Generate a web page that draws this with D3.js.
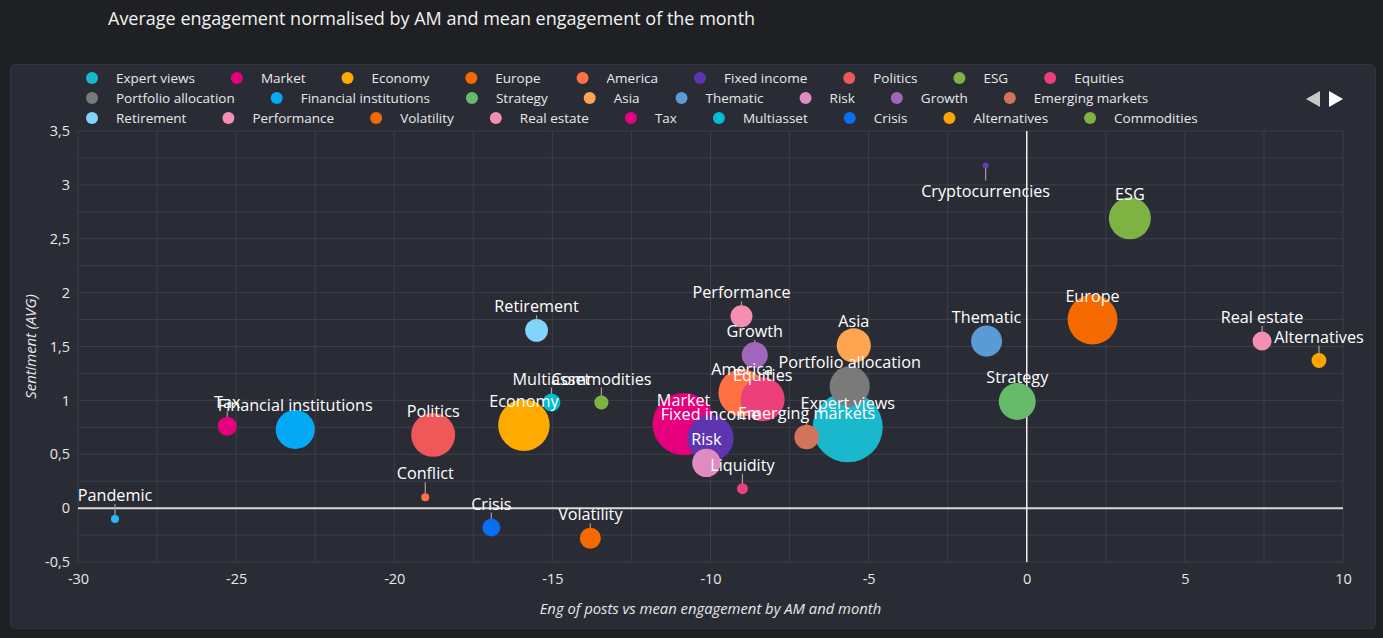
<!DOCTYPE html>
<html>
<head>
<meta charset="utf-8">
<script src="https://cdn.jsdelivr.net/npm/d3@7"></script>
<style>
  html, body { margin: 0; padding: 0; background: #1f2024; }
  svg { display: block; }
  text { font-family: "Open Sans", "Noto Sans", sans-serif; }
</style>
</head>
<body>
<svg id="chart" width="1383" height="638"></svg>
<script>
// ---------------- DATA ----------------
const titleText = "Average engagement normalised by AM and mean engagement of the month";
const xAxisTitle = "Eng of posts vs mean engagement by AM and month";
const yAxisTitle = "Sentiment (AVG)";

const topics = ["Expert views","Market","Economy","Europe","America","Fixed income","Politics","ESG","Equities",
  "Portfolio allocation","Financial institutions","Strategy","Asia","Thematic","Risk","Growth","Emerging markets",
  "Retirement","Performance","Volatility","Real estate","Tax","Multiasset","Crisis","Alternatives","Commodities",
  "Liquidity","Conflict","Pandemic","Cryptocurrencies"];
const engagement = [-5.66,-10.85,-15.9,2.08,-9.0,-10.0,-18.77,3.26,-8.35,
  -5.6,-23.13,-0.3,-5.47,-1.27,-10.13,-8.6,-6.96,
  -15.5,-9.02,-13.8,7.44,-25.28,-15.03,-16.93,9.24,-13.45,
  -8.99,-19.02,-28.83,-1.3];
const sentiment = [0.75,0.78,0.77,1.75,1.07,0.65,0.68,2.69,1.01,
  1.13,0.73,0.99,1.51,1.55,0.42,1.42,0.66,
  1.65,1.78,-0.28,1.55,0.76,0.98,-0.18,1.37,0.98,
  0.18,0.10,-0.10,3.18];
const posts = [122,96,66,62,56,53,48,44,48,
  40,38,34,29,24,20,17,15,
  13,12,11,9,9,8,8,5.5,5,
  3,1.6,1.6,0.9];
const colors = ["#1ab8cc","#e6007e","#ffaa00","#f56a00","#ff7043","#5e35b1","#ef5759","#7cb342","#ec407a",
  "#7a7a7a","#03a9f4","#66bb6a","#ffa552","#5b9bd5","#e08cc2","#a066bb","#d2735a",
  "#81d4fa","#f48fb1","#f56a00","#f48fb1","#e6007e","#00bcd4","#0a6ef0","#ffa500","#7cb342",
  "#ec407a","#ff7043","#29b6f6","#673ab7"];
const labelBelow = ["Cryptocurrencies"];
const xTicks = [-30,-25,-20,-15,-10,-5,0,5,10];
const yTicks = [-0.5,0,0.5,1,1.5,2,2.5,3,3.5];

// ---------------- LAYOUT ----------------
const W = 1383, H = 638;
const plot = { left: 78, right: 1343, top: 131, bottom: 562 };
const svg = d3.select("#chart");

svg.append("rect").attr("width", W).attr("height", H).attr("fill", "#1f2024");
svg.append("rect").attr("x", 10.5).attr("y", 64.5).attr("width", 1365).attr("height", 564)
  .attr("rx", 5).attr("fill", "#2a2c35").attr("stroke", "#33363f");

svg.append("text").attr("x", 108).attr("y", 18).attr("dominant-baseline", "central")
  .attr("fill", "#f2f2f2").attr("font-size", 18).text(titleText);

const x = d3.scaleLinear().domain([-30, 10]).range([plot.left, plot.right]);
const y = d3.scaleLinear().domain([-0.5, 3.5]).range([plot.bottom, plot.top]);
const r = d3.scaleSqrt().domain([0, d3.max(posts)]).range([0, 35]);
const fmt = v => String(v).replace(".", ",");

// grid
const g = svg.append("g");
g.append("g").selectAll("line").data(d3.range(-30, 10.01, 2.5)).join("line")
  .attr("x1", d => x(d)).attr("x2", d => x(d)).attr("y1", plot.top).attr("y2", plot.bottom)
  .attr("stroke", "#3c3f49").attr("stroke-width", 1);
g.append("g").selectAll("line").data(d3.range(-0.5, 3.51, 0.25)).join("line")
  .attr("x1", plot.left).attr("x2", plot.right).attr("y1", d => y(d)).attr("y2", d => y(d))
  .attr("stroke", "#3c3f49").attr("stroke-width", 1);

// axes
const xAxis = d3.axisBottom(x).tickValues(xTicks).tickSize(0).tickPadding(12).tickFormat(fmt);
const yAxis = d3.axisLeft(y).tickValues(yTicks).tickSize(0).tickPadding(8).tickFormat(fmt);
const gx = svg.append("g").attr("transform", `translate(0,${plot.bottom})`).call(xAxis);
const gy = svg.append("g").attr("transform", `translate(${plot.left},0)`).call(yAxis);
[gx, gy].forEach(a => {
  a.select(".domain").remove();
  a.selectAll("text").attr("fill", "#e6e6e6").attr("font-size", 14.5).attr("font-family", "Open Sans");
});

// zero lines
svg.append("line").attr("x1", plot.left).attr("x2", plot.right).attr("y1", y(0)).attr("y2", y(0))
  .attr("stroke", "#d9d9d9").attr("stroke-width", 2);
svg.append("line").attr("x1", x(0)).attr("x2", x(0)).attr("y1", plot.top).attr("y2", plot.bottom)
  .attr("stroke", "#f0f0f0").attr("stroke-width", 1.5);

// axis titles
svg.append("text").attr("x", (plot.left + plot.right) / 2).attr("y", 608).attr("text-anchor", "middle")
  .attr("dominant-baseline", "central").attr("font-style", "italic").attr("font-size", 14.8)
  .attr("fill", "#e6e6e6").text(xAxisTitle);
svg.append("text").attr("transform", `translate(30,${(plot.top + plot.bottom) / 2}) rotate(-90)`)
  .attr("text-anchor", "middle").attr("dominant-baseline", "central").attr("font-style", "italic")
  .attr("font-size", 14.8).attr("fill", "#e6e6e6").text(yAxisTitle);

// data
const data = topics.map((t, i) => ({ name: t, x: engagement[i], y: sentiment[i], v: posts[i], c: colors[i],
  below: labelBelow.includes(t) }));

// leader lines
svg.append("g").selectAll("line").data(data).join("line")
  .attr("x1", d => x(d.x)).attr("x2", d => x(d.x))
  .attr("y1", d => y(d.y))
  .attr("y2", d => d.below ? y(d.y) + 15 : y(d.y) - 15)
  .attr("stroke", "#a0a0a0").attr("stroke-width", 1.2);

// bubbles
svg.append("g").selectAll("circle").data(data).join("circle")
  .attr("cx", d => x(d.x)).attr("cy", d => y(d.y)).attr("r", d => r(d.v))
  .attr("fill", d => d.c);

// labels
svg.append("g").selectAll("text").data(data).join("text")
  .attr("x", d => x(d.x)).attr("y", d => d.below ? y(d.y) + 26 : y(d.y) - 24)
  .attr("text-anchor", "middle").attr("dominant-baseline", "central")
  .attr("font-size", 16.2).attr("fill", "#ffffff").text(d => d.name);

// legend (first page)
const legendRows = [[0, 9], [9, 17], [17, 26]];
const lg = svg.append("g");
legendRows.forEach((row, ri) => {
  let cx = 92;
  const yy = 78 + ri * 20;
  for (let i = row[0]; i < row[1]; i++) {
    lg.append("circle").attr("cx", cx).attr("cy", yy).attr("r", 6).attr("fill", colors[i]);
    const t = lg.append("text").attr("x", cx + 24).attr("y", yy).attr("dominant-baseline", "central")
      .attr("font-size", 13.5).attr("fill", "#e8e8e8").text(topics[i]);
    cx = cx + 24 + t.node().getComputedTextLength() + 42;
  }
});
// legend page arrows
svg.append("path").attr("d", "M1306,99 L1320,91 L1320,107 Z").attr("fill", "#c8c8c8");
svg.append("path").attr("d", "M1329,91 L1343,99 L1329,107 Z").attr("fill", "#ffffff");
</script>
</body>
</html>
